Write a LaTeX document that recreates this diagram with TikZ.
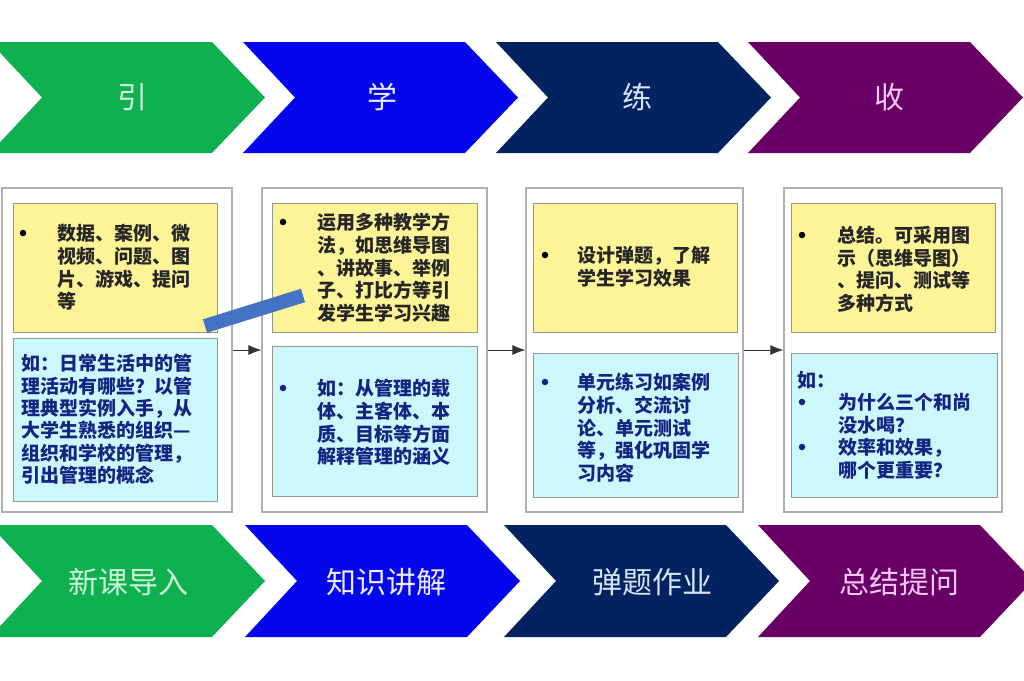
\documentclass[tikz,border=0pt]{standalone}
\usepackage{fontspec}
\newfontfamily\cjk{Noto Sans CJK SC}
\usetikzlibrary{arrows.meta}
\definecolor{cgreen}{RGB}{14,176,80}
\definecolor{cblue}{RGB}{4,6,236}
\definecolor{cnavy}{RGB}{2,34,96}
\definecolor{cpurple}{RGB}{104,0,102}
\definecolor{tgreen}{RGB}{205,245,215}
\definecolor{tblue}{RGB}{235,235,255}
\definecolor{tnavy}{RGB}{215,228,245}
\definecolor{tpurple}{RGB}{245,200,245}
\definecolor{yfill}{RGB}{252,244,150}
\definecolor{cfill}{RGB}{204,248,252}
\definecolor{boxline}{RGB}{150,150,140}
\definecolor{panelline}{RGB}{175,175,175}
\definecolor{ctext}{RGB}{20,36,130}
\definecolor{barblue}{RGB}{68,114,196}
\tikzset{
  panel/.style={draw=panelline, line width=1.3pt, fill=white, inner sep=0pt},
  ybox/.style={draw=boxline, line width=1pt, fill=yfill, inner sep=0pt},
  cbox/.style={draw=boxline, line width=1pt, fill=cfill, inner sep=0pt},
  btext/.style={inner sep=0pt, anchor=north west, align=left,
     font=\cjk\bfseries\fontsize{19}{22.7}\selectfont},
  ytext/.style={btext, text=black!85},
  ctextst/.style={btext, text=ctext},
  bul/.style={circle, fill=black, inner sep=0pt, minimum size=6.5pt},
  cbul/.style={bul, fill=ctext},
  chevlabel/.style={inner sep=0pt, anchor=center, font=\cjk\fontsize{30}{30}\selectfont},
  flow/.style={draw=black!80, line width=0.8pt, -{Latex[length=13pt,width=10pt]}},
}
\newcommand{\chev}[4]{% left, top, bottom, color
  \fill[#4] (#1,#2) -- ({#1+222},#2) -- ({#1+275},{(#2+#3)/2}) -- ({#1+222},#3) -- (#1,#3) -- ({#1+52},{(#2+#3)/2}) -- cycle;
}
\begin{document}
\begin{tikzpicture}[x=1pt,y=-1pt]
\useasboundingbox (0,0) rectangle (1024,680);
\fill[white] (0,0) rectangle (1024,680);
% top chevrons
\chev{-10}{42}{153}{cgreen}
\chev{243}{42}{153}{cblue}
\chev{496}{42}{153}{cnavy}
\chev{748}{42}{153}{cpurple}
\node[chevlabel, text=tgreen] (h1) at (132,97) {引};
\node[chevlabel, text=tblue] (h2) at (382,97) {学};
\node[chevlabel, text=tnavy] (h3) at (637,97) {练};
\node[chevlabel, text=tpurple] (h4) at (889,97) {收};
% bottom chevrons
\chev{-10}{525}{637}{cgreen}
\chev{245}{525}{637}{cblue}
\chev{504}{525}{637}{cnavy}
\chev{758}{525}{637}{cpurple}
\node[chevlabel, text=tgreen] (f1) at (128,582) {新课导入};
\node[chevlabel, text=tblue] (f2) at (386,582) {知识讲解};
\node[chevlabel, text=tnavy] (f3) at (652,582) {弹题作业};
\node[chevlabel, text=tpurple] (f4) at (899,582) {总结提问};
% panels
\node[panel, minimum width=230pt, minimum height=324pt] (p1) at (117,350) {};
\node[panel, minimum width=225pt, minimum height=324pt] (p2) at (374.5,350) {};
\node[panel, minimum width=217pt, minimum height=324pt] (p3) at (634.5,350) {};
\node[panel, minimum width=218pt, minimum height=324pt] (p4) at (893,350) {};
\draw[flow] (p1.east) -- (p2.west);
\draw[flow] (p2.east) -- (p3.west);
\draw[flow] (p3.east) -- (p4.west);
% panel 1
\node[ybox, minimum width=204pt, minimum height=129pt] (y1) at (115,267.5) {};
\node[cbox, minimum width=204pt, minimum height=163pt] (c1) at (115,419.5) {};
\node[bul] (y1b) at (23,233) {};
\node[ytext] (y1t) at (57,224) {数据、案例、微\\视频、问题、图\\片、游戏、提问\\等};
\node[ctextst, font=\cjk\bfseries\fontsize{19}{22.4}\selectfont] (c1t) at (21,354) {如：日常生活中的管\\理活动有哪些？以管\\理典型实例入手，从\\大学生熟悉的组织—\\组织和学校的管理，\\引出管理的概念};
% panel 2
\node[ybox, minimum width=205pt, minimum height=129pt] (y2) at (374.5,267.5) {};
\node[cbox, minimum width=205pt, minimum height=150pt] (c2) at (374.5,421) {};
\node[bul] (y2b) at (283,222) {};
\node[ytext] (y2t) at (317,213) {运用多种教学方\\法，如思维导图\\、讲故事、举例\\子、打比方等引\\发学生学习兴趣};
\node[cbul] (c2b) at (283,388) {};
\node[ctextst] (c2t) at (317,379) {如：从管理的载\\体、主客体、本\\质、目标等方面\\解释管理的涵义};
% panel 3
\node[ybox, minimum width=204pt, minimum height=129pt] (y3) at (635,267.5) {};
\node[cbox, minimum width=205pt, minimum height=144pt] (c3) at (635.5,425) {};
\node[bul] (y3b) at (545,255) {};
\node[ytext] (y3t) at (577,246) {设计弹题，了解\\学生学习效果};
\node[cbul] (c3b) at (545,382) {};
\node[ctextst] (c3t) at (577,373) {单元练习如案例\\分析、交流讨\\论、单元测试\\等，强化巩固学\\习内容};
% panel 4
\node[ybox, minimum width=204pt, minimum height=129pt] (y4) at (893,267.5) {};
\node[cbox, minimum width=206pt, minimum height=144pt] (c4) at (894,425) {};
\node[bul] (y4b) at (802,235) {};
\node[ytext] (y4t) at (837,226) {总结。可采用图\\示（思维导图）\\、提问、测试等\\多种方式};
\node[ctextst] (c4h) at (797,371) {如：};
\node[cbul] (c4b1) at (802,402) {};
\node[ctextst] (c4t1) at (838,393) {为什么三个和尚\\没水喝？};
\node[cbul] (c4b2) at (802,447) {};
\node[ctextst] (c4t2) at (838,438) {效率和效果，\\哪个更重要？};
% slanted blue bar
\coordinate (barA) at (205,326);
\coordinate (barB) at (303,295.5);
\draw[barblue, line width=14pt] (barA) -- (barB);
\end{tikzpicture}
\end{document}
